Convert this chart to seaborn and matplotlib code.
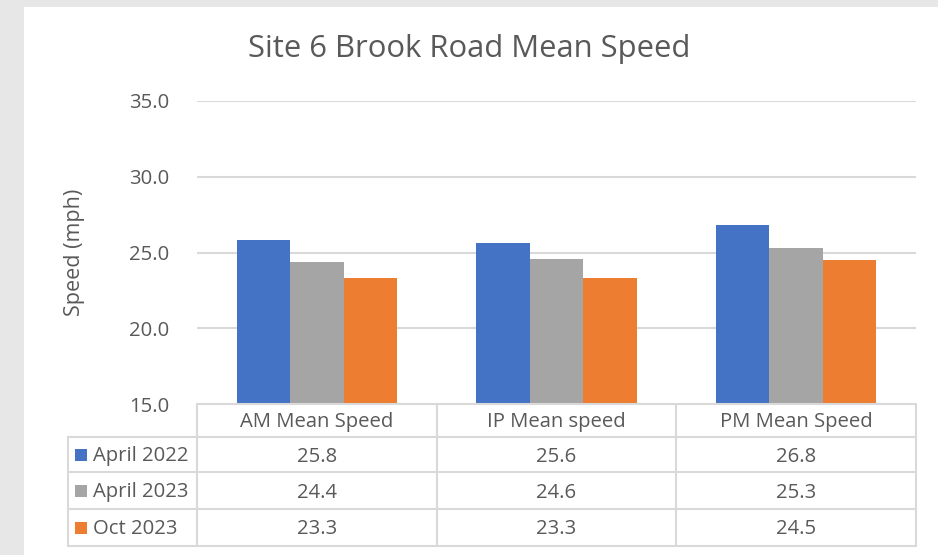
import pandas as pd
import numpy as np
import matplotlib.pyplot as plt
import seaborn as sns
from matplotlib.patches import Rectangle

categories = ["AM Mean Speed", "IP Mean speed", "PM Mean Speed"]
series = ["April 2022", "April 2023", "Oct 2023"]
april_2022 = [25.8, 25.6, 26.8]
april_2023 = [24.4, 24.6, 25.3]
oct_2023 = [23.3, 23.3, 24.5]
colors = ["#4472C4", "#A5A5A5", "#ED7D31"]
yticks = [15.0, 20.0, 25.0, 30.0, 35.0]

values = [april_2022, april_2023, oct_2023]
df = pd.DataFrame({
    "period": categories * 3,
    "series": [s for s in series for _ in categories],
    "speed": april_2022 + april_2023 + oct_2023,
})

sns.set_theme(style="white")
plt.rcParams["font.family"] = ["Open Sans", "DejaVu Sans"]
text_col = "#595959"
grid_col = "#D9D9D9"
fs = 14.6

W, H = 938, 555
fig = plt.figure(figsize=(W / 100, H / 100), dpi=100)
fig.patch.set_facecolor("#E7E7E7")
fig.patches.append(Rectangle((24 / W, 0), 1, 1 - 7 / H, transform=fig.transFigure,
                             facecolor="white", edgecolor="none", zorder=-5))

def fx(px):
    return px / W

def fy(py):
    return 1 - py / H

left, right, top, bottom = 197, 916, 101, 404
ax = fig.add_axes([fx(left), fy(bottom), fx(right) - fx(left), fy(top) - fy(bottom)])
ax.set_facecolor("none")

sns.barplot(data=df, x="period", y="speed", hue="series", palette=colors,
            hue_order=series, order=categories, width=0.67, saturation=1,
            linewidth=0, ax=ax, legend=False)
ax.set_ylim(15, 35)
ax.set_xlim(-0.5, 2.5)
ax.set_yticks(yticks)
ax.set_yticklabels([f"{t:.1f}" for t in yticks], color=text_col, fontsize=fs)
ax.tick_params(axis="y", length=0, pad=20)
ax.set_xticks([])
ax.set_xlabel("")
ax.set_ylabel("Speed (mph)", color=text_col, fontsize=15.5, labelpad=32)
for t in yticks[1:]:
    ax.axhline(t, color=grid_col, lw=1.5, zorder=0)
for s in ax.spines.values():
    s.set_visible(False)

fig.text(fx(469), fy(49), "Site 6 Brook Road Mean Speed", ha="center", va="center",
         fontsize=22.3, color=text_col)

# data table under the axis
col_x = [68, 197, 437, 676, 916]
row_y = [404, 437, 472, 509, 546]
line_kw = dict(color=grid_col, lw=1.5, transform=fig.transFigure, zorder=5)
fig.add_artist(plt.Line2D([fx(197), fx(916)], [fy(404), fy(404)], **line_kw))
for y in row_y[1:]:
    fig.add_artist(plt.Line2D([fx(68), fx(916)], [fy(y), fy(y)], **line_kw))
for x in col_x[1:]:
    fig.add_artist(plt.Line2D([fx(x), fx(x)], [fy(404), fy(546)], **line_kw))
fig.add_artist(plt.Line2D([fx(68), fx(68)], [fy(437), fy(546)], **line_kw))

for j, cat in enumerate(categories):
    cx = (col_x[j + 1] + col_x[j + 2]) / 2
    fig.text(fx(cx), fy((row_y[0] + row_y[1]) / 2 + 2), cat, ha="center", va="center",
             fontsize=fs, color=text_col)
for i, (name, vals, c) in enumerate(zip(series, values, colors)):
    cy = (row_y[i + 1] + row_y[i + 2]) / 2
    fig.patches.append(Rectangle((fx(75), fy(cy + 6)), fx(12), 12 / H,
                                 transform=fig.transFigure, facecolor=c,
                                 edgecolor="none", zorder=6))
    fig.text(fx(93), fy(cy + 2), name, ha="left", va="center", fontsize=fs, color=text_col)
    for j, v in enumerate(vals):
        cx = (col_x[j + 1] + col_x[j + 2]) / 2
        fig.text(fx(cx), fy(cy + 2), f"{v:.1f}", ha="center", va="center",
                 fontsize=fs, color=text_col)

fig.savefig("out.png", dpi=100, facecolor=fig.get_facecolor())
